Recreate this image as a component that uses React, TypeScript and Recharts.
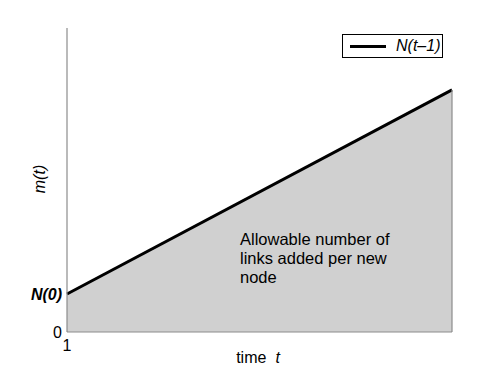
import React from 'react';
import { AreaChart, Area, XAxis, YAxis, ReferenceLine, Label } from 'recharts';

// time axis: first and last time step shown
const times = [1, 11];
// m(t) = N(t-1), linear growth from N(0)
const allowedLinks = [1, 6.37];
const yTicks = [0, 1];
const yTickLabels = ['0', 'N(0)'];
const xTicks = [1];
const xTickLabels = ['1'];
const seriesName = 'N(t–1)';

const data = times.map((t, i) => ({ t, m: allowedLinks[i] }));

const FONT = '"Liberation Sans", Arial, Helvetica, sans-serif';
const axisGrey = '#8c8c8c';

const YTick = (props: any) => {
  const { x, y, payload } = props;
  const idx = yTicks.indexOf(payload.value);
  const isN0 = idx === 1;
  return (
    <text
      x={x}
      y={y}
      dy="0.35em"
      textAnchor="end"
      fontFamily={FONT}
      fontSize={16}
      fontStyle={isN0 ? 'italic' : 'normal'}
      fontWeight={isN0 ? 'bold' : 'normal'}
      fill="#000"
    >
      {yTickLabels[idx]}
    </text>
  );
};

const XTick = (props: any) => {
  const { x, y, payload } = props;
  const idx = xTicks.indexOf(payload.value);
  return (
    <text x={x} y={y} dy="0.71em" textAnchor="middle" fontFamily={FONT} fontSize={16} fill="#000">
      {xTickLabels[idx]}
    </text>
  );
};

// legend drawn as an overlay so it does not take room from the plot
const LegendBox = () => (
  <div
    style={{
      position: 'absolute',
      left: 342,
      top: 34,
      border: '1px solid #000',
      background: '#fff',
      width: 99,
      height: 22,
      display: 'flex',
      alignItems: 'center',
      fontFamily: FONT,
      fontSize: 16,
      fontStyle: 'italic',
    }}
  >
    <span style={{ display: 'inline-block', width: 36, height: 3, background: '#000', marginLeft: 7, marginRight: 10 }} />
    <span>{seriesName}</span>
  </div>
);

export default function App() {
  const last = data[data.length - 1];
  return (
    <div style={{ position: 'absolute', left: 0, top: 0, width: 498, height: 375, background: '#fff' }}>
      <AreaChart width={498} height={375} data={data} margin={{ top: 28, right: 46, left: 0, bottom: 0 }}>
        <XAxis
          dataKey="t"
          type="number"
          domain={[1, 11]}
          ticks={xTicks}
          tick={<XTick />}
          tickLine={false}
          tickSize={0}
          tickMargin={8}
          axisLine={{ stroke: axisGrey, strokeWidth: 1.2 }}
          height={43}
        >
          <Label
            content={() => (
              <text x={258} y={363} textAnchor="middle" fontFamily={FONT} fontSize={16} fill="#000">
                time
                <tspan fontStyle="italic" dx={9}>t</tspan>
              </text>
            )}
          />
        </XAxis>
        <YAxis
          type="number"
          domain={[0, 8]}
          ticks={yTicks}
          tick={<YTick />}
          tickLine={false}
          tickSize={0}
          tickMargin={5}
          axisLine={{ stroke: axisGrey, strokeWidth: 1.2 }}
          width={67}
        >
          <Label
            content={() => (
              <text
                x={39}
                y={179}
                transform="rotate(-90 39 179)"
                dy="0.35em"
                textAnchor="middle"
                fontFamily={FONT}
                fontSize={16}
                fontStyle="italic"
                fill="#000"
              >
                m(t)
              </text>
            )}
          />
        </YAxis>
        <Area
          type="linear"
          dataKey="m"
          name={seriesName}
          stroke="#000"
          strokeWidth={3}
          fill="#d0d0d0"
          fillOpacity={1}
          baseValue={0}
          isAnimationActive={false}
          dot={false}
          activeDot={false}
        />
        <ReferenceLine
          segment={[
            { x: last.t, y: 0 },
            { x: last.t, y: last.m },
          ]}
          stroke={axisGrey}
          strokeWidth={1.2}
        />
      </AreaChart>
      <LegendBox />
      <div
        style={{
          position: 'absolute',
          left: 240,
          top: 230,
          fontFamily: FONT,
          fontSize: 16.5,
          lineHeight: '19px',
          color: '#000',
          width: 175,
        }}
      >
        Allowable number of
        <br />
        links added per new
        <br />
        node
      </div>
    </div>
  );
}
